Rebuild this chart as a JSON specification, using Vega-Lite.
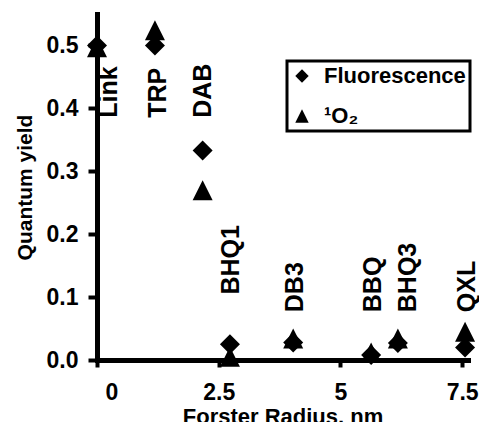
{
  "$schema": "https://vega.github.io/schema/vega-lite/v6.json",
  "width": 371,
  "height": 346,
  "autosize": {"type": "none"},
  "padding": {"left": 97, "top": 14, "right": 11, "bottom": 62},
  "background": "white",
  "config": {
    "view": {"stroke": null},
    "font": "Liberation Sans",
    "legend": {"strokeWidth": 3}
  },
  "datasets": {
    "points": [
      {"dye": "Link", "r": 0, "qy": 0.5, "series": "Fluorescence"},
      {"dye": "Link", "r": 0, "qy": 0.497, "series": "¹O₂"},
      {"dye": "TRP", "r": 1.19, "qy": 0.5, "series": "Fluorescence"},
      {"dye": "TRP", "r": 1.19, "qy": 0.524, "series": "¹O₂"},
      {"dye": "DAB", "r": 2.17, "qy": 0.333, "series": "Fluorescence"},
      {"dye": "DAB", "r": 2.17, "qy": 0.27, "series": "¹O₂"},
      {"dye": "BHQ1", "r": 2.73, "qy": 0.025, "series": "Fluorescence"},
      {"dye": "BHQ1", "r": 2.73, "qy": 0.005, "series": "¹O₂"},
      {"dye": "DB3", "r": 4.03, "qy": 0.028, "series": "Fluorescence"},
      {"dye": "DB3", "r": 4.03, "qy": 0.034, "series": "¹O₂"},
      {"dye": "BBQ", "r": 5.63, "qy": 0.008, "series": "Fluorescence"},
      {"dye": "BBQ", "r": 5.63, "qy": 0.012, "series": "¹O₂"},
      {"dye": "BHQ3", "r": 6.18, "qy": 0.027, "series": "Fluorescence"},
      {"dye": "BHQ3", "r": 6.18, "qy": 0.034, "series": "¹O₂"},
      {"dye": "QXL", "r": 7.56, "qy": 0.02, "series": "Fluorescence"},
      {"dye": "QXL", "r": 7.56, "qy": 0.045, "series": "¹O₂"}
    ],
    "labels": [
      {"name": "Link", "r": 0.25, "qy": 0.385},
      {"name": "TRP", "r": 1.25, "qy": 0.385},
      {"name": "DAB", "r": 2.18, "qy": 0.385},
      {"name": "BHQ1", "r": 2.75, "qy": 0.104},
      {"name": "DB3", "r": 4.07, "qy": 0.076},
      {"name": "BBQ", "r": 5.67, "qy": 0.076},
      {"name": "BHQ3", "r": 6.39, "qy": 0.076},
      {"name": "QXL", "r": 7.6, "qy": 0.076}
    ]
  },
  "encoding": {
    "x": {
      "field": "r",
      "type": "quantitative",
      "scale": {"domain": [0, 7.62], "nice": false, "zero": false},
      "axis": {
        "values": [0, 2.5, 5, 7.5],
        "format": ".2~f",
        "labelOverlap": false,
        "grid": false,
        "domainColor": "black",
        "domainWidth": 5,
        "domainCap": "square",
        "tickColor": "black",
        "tickWidth": 4,
        "tickSize": 7,
        "labelFont": "Liberation Sans",
        "labelFontSize": 23,
        "labelFontWeight": "bold",
        "labelColor": "black",
        "labelPadding": 14,
        "labelOffset": {"condition": {"test": "datum.value === 0", "value": 8}, "value": 0},
        "title": "Forster Radius, nm",
        "titleFont": "Liberation Sans",
        "titleFontSize": 22,
        "titleFontWeight": "bold",
        "titleColor": "black",
        "titlePadding": 2
      }
    },
    "y": {
      "field": "qy",
      "type": "quantitative",
      "scale": {"domain": [0, 0.55], "nice": false, "zero": false},
      "axis": {
        "values": [0, 0.1, 0.2, 0.3, 0.4, 0.5],
        "format": ".1f",
        "grid": false,
        "domainColor": "black",
        "domainWidth": 5,
        "domainCap": "square",
        "tickColor": "black",
        "tickWidth": 4,
        "tickSize": 9,
        "labelFont": "Liberation Sans",
        "labelFontSize": 23,
        "labelFontWeight": "bold",
        "labelColor": "black",
        "labelPadding": 10,
        "title": "Quantum yield",
        "titleFont": "Liberation Sans",
        "titleFontSize": 21,
        "titleFontWeight": "bold",
        "titleColor": "black",
        "titlePadding": 11
      }
    }
  },
  "layer": [
    {
      "data": {"name": "points"},
      "mark": {"type": "point", "filled": true, "opacity": 1, "size": 400, "color": "black", "strokeWidth": 0},
      "encoding": {
        "shape": {
          "field": "series",
          "type": "nominal",
          "scale": {"domain": ["Fluorescence", "¹O₂"], "range": ["diamond", "M-1,1L0,-1L1,1Z"]},
          "legend": {
            "orient": "none",
            "legendX": 190,
            "legendY": 47,
            "title": null,
            "strokeColor": "black",
            "fillColor": "white",
            "padding": 4,
            "symbolSize": 180,
            "symbolFillColor": "black",
            "symbolStrokeColor": "black",
            "symbolStrokeWidth": 0,
            "labelFont": "Liberation Sans",
            "labelFontSize": 22,
            "labelFontWeight": "bold",
            "labelColor": "black",
            "labelOffset": 11,
            "labelLimit": 400,
            "rowPadding": 18,
            "labelExpr": "datum.label + '\u00a0\u00a0\u00a0\u00a0'"
          }
        }
      }
    },
    {
      "data": {"name": "labels"},
      "mark": {"type": "text", "angle": 270, "align": "left", "baseline": "middle", "font": "Liberation Sans", "fontSize": 25, "fontWeight": "bold", "color": "black"},
      "encoding": {"text": {"field": "name", "type": "nominal"}}
    }
  ]
}
